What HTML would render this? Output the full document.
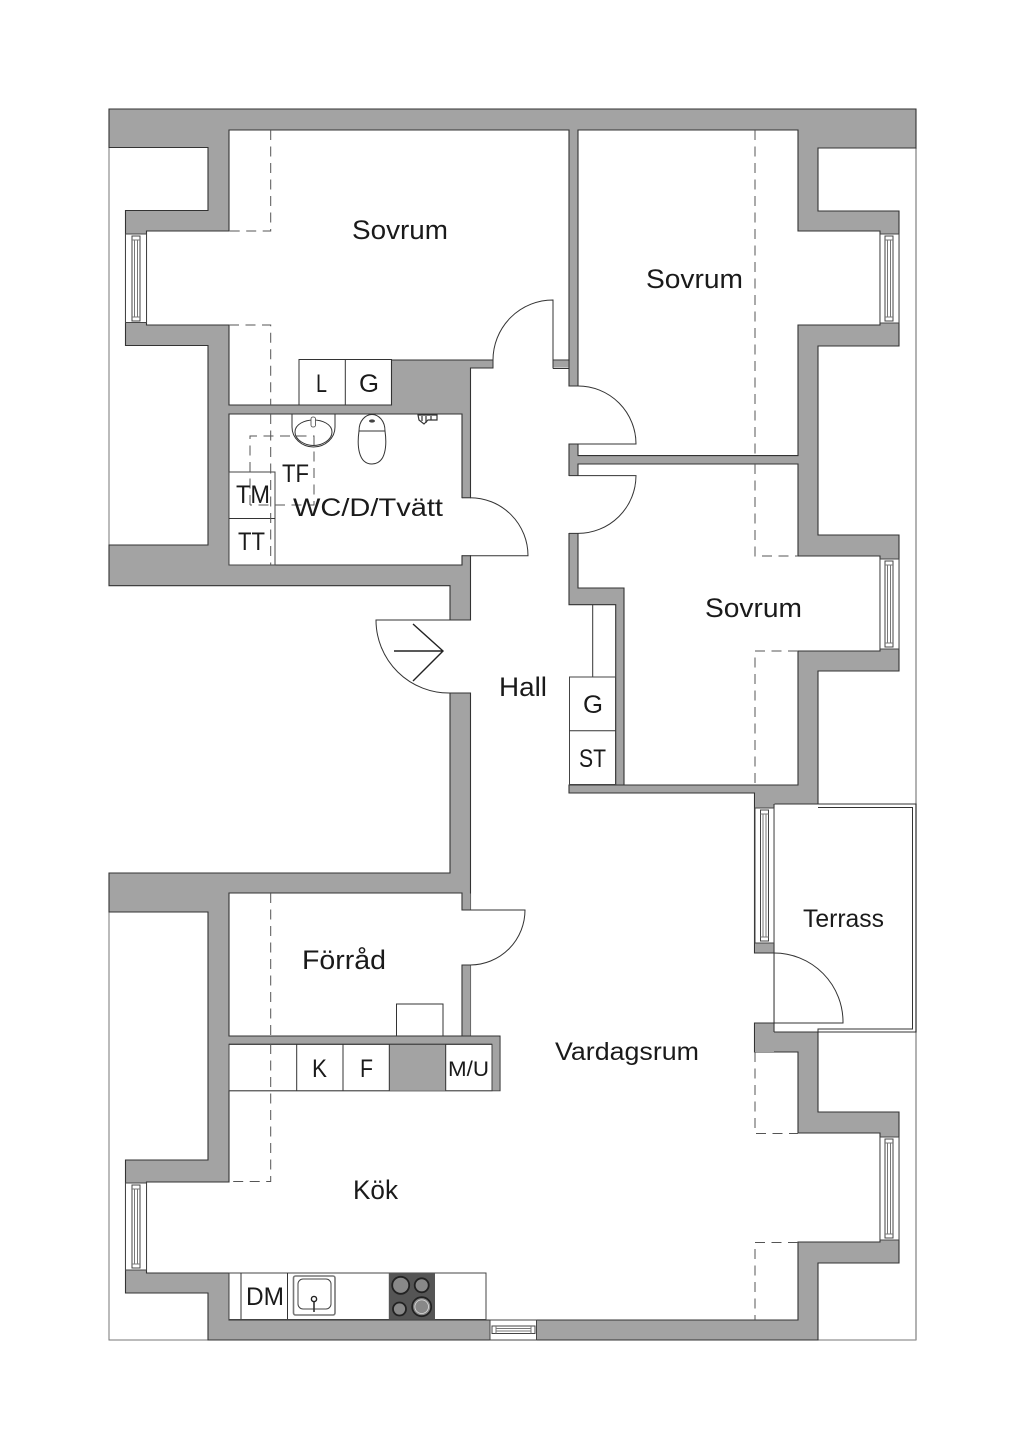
<!DOCTYPE html>
<html><head><meta charset="utf-8"><style>
html,body{margin:0;padding:0;background:#fff}
svg{display:block}
text{font-family:"Liberation Sans",sans-serif;fill:#1a1a1a;stroke:none}
.w{fill:#fff;stroke:#333;stroke-width:1.1}
.f{fill:#fff;stroke:#444;stroke-width:1}
.n{fill:#fff;stroke:none}
.l{fill:none;stroke:#333;stroke-width:1}
.d{fill:none;stroke:#555;stroke-width:1;stroke-dasharray:10 6.5}
.g{fill:none;stroke:#777;stroke-width:1}
</style></head><body>
<svg width="1024" height="1448" viewBox="0 0 1024 1448" xmlns="http://www.w3.org/2000/svg">
<rect width="1024" height="1448" fill="#fff"/>
<!-- frame lines -->
<path class="g" d="M109 147V545M109 912V1340H208M818 1340H916V148"/>
<path d="M916 148V1340" stroke="#999" stroke-width="1.5" fill="none"/>
<!-- walls -->
<path fill="#a3a3a3" stroke="#333" stroke-width="1.1" d="M109 109H916V148H818V211H899V346H818V535H899V671H818V804H774V1032H818V1112H899V1263H818V1340H208V1293H125.5V1160H208V912H109V873H450V585.7H109V545H208V345.5H125.5V210.5H208V147.5H109Z"/>
<!-- terrace -->
<path class="l" d="M818 804H916V1032H774M818 807.5H912.5V1029H818V1032"/>
<!-- rooms -->
<path class="w" d="M229 130H569V360H391.5V405H229V325H146.5V231H229Z"/>
<path class="w" d="M578 130H798V231H880V325H798V455.6H578Z"/>
<path class="w" d="M578 464H798V556H880V651H798V785H624V588H578Z"/>
<path class="w" d="M229 414H462V565H229Z"/>
<path class="w" d="M229 893H462V1036H229Z"/>
<path class="w" d="M470.5 368H553V360H569V368V604.7H615.7V785H569V793H754.5V1052H798V1133H880V1242H798V1320H229V1273H146.5V1182H229V1090.7H500V1036H470.5Z"/>
<!-- stub of wall between hall and Sovrum 1 -->
<rect x="553.5" y="360.6" width="15" height="7" fill="#a3a3a3"/>
<path class="l" d="M553 360H569M553 368.5H569"/>
<rect x="229.5" y="1036.5" width="270" height="7.5" fill="#a3a3a3"/>
<rect x="754.5" y="793.5" width="20" height="14" fill="#a3a3a3"/>
<rect x="755" y="943" width="19" height="10" fill="#a3a3a3"/>
<rect x="755" y="1023" width="19" height="29" fill="#a3a3a3"/>
<rect x="492.6" y="1037" width="7" height="53.5" fill="#a3a3a3"/>
<rect x="462.5" y="893.5" width="8" height="17" fill="#a3a3a3"/>
<rect x="462.5" y="965" width="8" height="71" fill="#a3a3a3"/>
<!-- door gaps -->
<rect class="n" x="493.5" y="355" width="59.2" height="14"/>
<rect class="n" x="567" y="386.5" width="12" height="57"/>
<rect class="n" x="567" y="476" width="12" height="57"/>
<rect class="n" x="460.5" y="498.2" width="12" height="57"/>
<rect class="n" x="449" y="620.5" width="23" height="72"/>
<rect class="n" x="460.5" y="910.5" width="12" height="54"/>
<rect class="n" x="753.5" y="953.5" width="20" height="69"/>
<!-- wall edges around gaps -->
<path class="l" d="M462 1036H500M754.5 793V953H774M754.5 1023H774M754.5 1023V1052M569 785H754.5M774 804V1032"/>
<path class="l" d="M493 360V368.5M553 360V368.5M569 386H578M569 444H578M569 475.6H578M569 533.4H578M462 497.7H470.5M462 555.7H470.5M450 620H470.5M450 693H470.5M462 910H470.5M462 965H470.5"/>
<path class="l" d="M569 444V475.6M578 444V455.6M578 464V475.6M578 386V368M462 910V893M462 1036V965M462 497.7V414M462 555.7V565"/>
<!-- doors -->
<path class="l" d="M493 360A60 60 0 0 1 553 300V360"/>
<path class="l" d="M578 386A58 58 0 0 1 636 444H578"/>
<path class="l" d="M578 475.6H636A58 58 0 0 1 578 533.4"/>
<path class="l" d="M470 497.7A58 58 0 0 1 528 555.7H470"/>
<path class="l" d="M450 620H376A73 73 0 0 0 450 693"/>
<path d="M394 651H443M413 624L443 651L413 681" fill="none" stroke="#222" stroke-width="1.4"/>
<path class="l" d="M470.5 910H525A55 55 0 0 1 470.5 965"/>
<path class="l" d="M774 953A69 69 0 0 1 843 1023H774"/>
<!-- windows -->
<g>
<rect class="f" x="125.5" y="234" width="21" height="88.5"/>
<rect class="f" x="132" y="236" width="8" height="85"/><path class="g" d="M134.5 240V317M137.5 240V317M132 240H140M132 317H140"/>
<rect class="f" x="125.5" y="1183" width="21" height="87"/>
<rect class="f" x="132" y="1185" width="8" height="83"/><path class="g" d="M134.5 1189V1264M137.5 1189V1264M132 1189H140M132 1264H140"/>
<rect class="f" x="880" y="234" width="19" height="89"/>
<rect class="f" x="885" y="236" width="8" height="85"/><path class="g" d="M887.5 240V317M890.5 240V317M885 240H893M885 317H893"/>
<rect class="f" x="880" y="559" width="19" height="90"/>
<rect class="f" x="885" y="561" width="8" height="86"/><path class="g" d="M887.5 565V643M890.5 565V643M885 565H893M885 643H893"/>
<rect class="f" x="880" y="1137" width="19" height="103"/>
<rect class="f" x="885" y="1139" width="8" height="99"/><path class="g" d="M887.5 1143V1234M890.5 1143V1234M885 1143H893M885 1234H893"/>
<rect class="f" x="755" y="808" width="19" height="135"/>
<rect class="f" x="760.5" y="810" width="8" height="131"/><path class="g" d="M763 814V937M766 814V937M760.5 814H768.5M760.5 937H768.5"/>
<rect class="f" x="490" y="1320" width="46.5" height="20"/>
<rect class="f" x="492" y="1326" width="43" height="7.5"/><path class="g" d="M496 1328.5H531M496 1331H531M496 1326V1333.5M531 1326V1333.5"/>
</g>
<!-- closets -->
<path class="l" d="M299 405V359.5H391.5V405M345.3 359.5V405M229 405H391.5"/>
<rect x="229" y="472" width="46" height="93" class="f"/>
<path class="l" d="M229 518.5H275"/>
<path class="l" d="M592.7 604.7V677"/>
<rect class="f" x="569.5" y="677" width="46" height="107.5"/><path class="l" d="M569.5 730.8H615.7"/>
<path class="l" d="M396.5 1036V1004H443V1036"/>
<!-- storage row -->
<rect class="f" x="229" y="1044.3" width="263" height="46.4"/>
<rect x="389.3" y="1044.3" width="56.4" height="46.4" fill="#a3a3a3"/>
<path class="l" d="M296.7 1044.3V1090.7M343 1044.3V1090.7M389.3 1044.3V1090.7M445.7 1044.3V1090.7M229 1044.3H492"/>
<!-- kitchen counter -->
<rect class="f" x="229" y="1273" width="257" height="46.5"/>
<path class="l" d="M241 1273V1319M287.5 1273V1319"/>
<rect x="293.5" y="1276" width="41.5" height="39" rx="2" fill="#fff" stroke="#777" stroke-width="1.6"/>
<rect x="298" y="1279" width="33" height="30" rx="5" fill="#fff" stroke="#444" stroke-width="1"/>
<circle cx="314" cy="1299" r="2.6" fill="#fff" stroke="#222" stroke-width="1.4"/>
<path d="M314 1302V1312" stroke="#333" stroke-width="1.6"/>
<rect x="388.8" y="1273" width="46.2" height="46.5" fill="#555"/>
<g stroke="#222" stroke-width="1.8" fill="#888">
<circle cx="400.7" cy="1285.3" r="8.5"/><circle cx="421.7" cy="1285.3" r="7"/><circle cx="399.5" cy="1309" r="6.5"/><circle cx="421.7" cy="1306.7" r="9.5"/>
</g>
<circle cx="421.7" cy="1306.7" r="6.8" fill="none" stroke="#ddd" stroke-width=".8"/>
<!-- WC fixtures -->
<path class="l" d="M292 414V427A21.5 20 0 0 0 335 427V414"/>
<path class="l" d="M295 432C295 424 305 420 313.5 420C322 420 332 424 332 432C332 440 322 445.5 313.5 445.5C305 445.5 295 440 295 432Z"/>
<rect x="311" y="417" width="4.5" height="10" rx="2" fill="#fff" stroke="#444" stroke-width=".8"/>
<path class="l" d="M359 431C359 420 366 414.5 372 414.5C378 414.5 385 420 385 431Z"/>
<path class="l" d="M359 431C357 445 358 464 372 464C386 464 387 445 385 431"/>
<ellipse cx="372" cy="421" rx="3" ry="1.6" fill="#444"/>
<path d="M418 415H437V420H428L424 424L419 420Z" fill="#fff" stroke="#333" stroke-width="1.2"/>
<path d="M422 416V421M426 416V423M431 416V420" stroke="#333" stroke-width="1.2"/>
<!-- dashed -->
<path class="d" d="M270.7 130V231H229M229 325H270.7V405"/>
<path class="d" d="M270.7 414V565"/>
<path class="d" d="M270.7 893V1036M270.7 1044V1181.5H229"/>
<path class="d" d="M250 505V436H314V505H250"/>
<path class="d" d="M755 130V455M755 464V556H798M798 651H755V785"/>
<path class="d" d="M755 1052V1133.5H798M798 1242.5H755V1320"/>
<!-- labels -->
<g font-size="27">
<text x="352" y="239" textLength="96" lengthAdjust="spacingAndGlyphs">Sovrum</text>
<text x="646" y="288" textLength="97" lengthAdjust="spacingAndGlyphs">Sovrum</text>
<text x="705" y="617" textLength="97" lengthAdjust="spacingAndGlyphs">Sovrum</text>
<text x="499" y="696" textLength="48" lengthAdjust="spacingAndGlyphs">Hall</text>
<text x="302" y="969" textLength="84" lengthAdjust="spacingAndGlyphs">Förråd</text>
<text x="353" y="1199" textLength="45" lengthAdjust="spacingAndGlyphs">Kök</text>
<text x="555" y="1060" font-size="25" textLength="144" lengthAdjust="spacingAndGlyphs">Vardagsrum</text>
<text x="803" y="927" font-size="25" textLength="81" lengthAdjust="spacingAndGlyphs">Terrass</text>
<text x="293" y="516" font-size="25" textLength="150" lengthAdjust="spacingAndGlyphs">WC/D/Tvätt</text>
<text x="282" y="482" font-size="25" textLength="27" lengthAdjust="spacingAndGlyphs">TF</text>
<text x="236" y="503" font-size="25" textLength="34" lengthAdjust="spacingAndGlyphs">TM</text>
<text x="238" y="550" font-size="25" textLength="27" lengthAdjust="spacingAndGlyphs">TT</text>
<text x="316" y="392" font-size="25" textLength="11" lengthAdjust="spacingAndGlyphs">L</text>
<text x="359" y="392" font-size="25" textLength="20" lengthAdjust="spacingAndGlyphs">G</text>
<text x="583" y="713" font-size="25" textLength="20" lengthAdjust="spacingAndGlyphs">G</text>
<text x="579" y="767" font-size="25" textLength="27" lengthAdjust="spacingAndGlyphs">ST</text>
<text x="312" y="1077" font-size="25" textLength="15" lengthAdjust="spacingAndGlyphs">K</text>
<text x="360" y="1077" font-size="25" textLength="13" lengthAdjust="spacingAndGlyphs">F</text>
<text x="448" y="1076" font-size="21" textLength="41" lengthAdjust="spacingAndGlyphs">M/U</text>
<text x="246" y="1305" font-size="25" textLength="38" lengthAdjust="spacingAndGlyphs">DM</text>
</g>
</svg>
</body></html>
